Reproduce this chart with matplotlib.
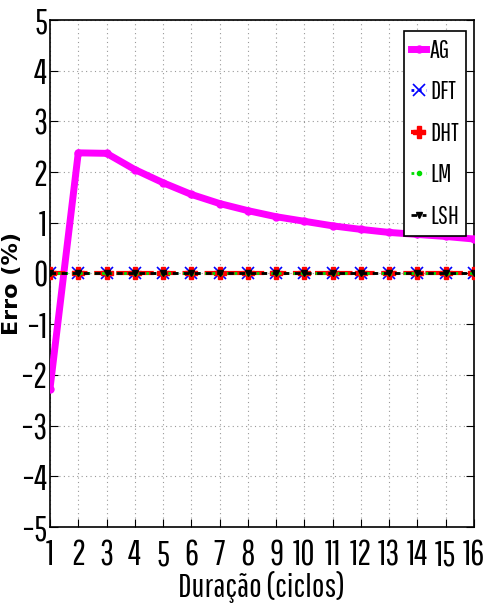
import numpy as np
import matplotlib
matplotlib.use("Agg")
import matplotlib.pyplot as plt

# fonte estreita para os números e rótulos
narrow = ["Pathway Gothic One", "DejaVu Sans"]

# dados
ciclos = np.arange(1, 17)
erro_ag = [-2.27, 2.38, 2.37, 2.05, 1.79, 1.56, 1.38, 1.24, 1.12, 1.03,
           0.94, 0.87, 0.81, 0.77, 0.73, 0.68]
erro_dft = [0.0] * 16
erro_dht = [0.0] * 16
erro_lm = [0.0] * 16
erro_lsh = [0.0] * 16

fig = plt.figure(figsize=(4.83, 6.12), dpi=100)
ax = fig.add_axes([50 / 483, 85 / 612, 424 / 483, 507 / 612])

ax.plot(ciclos, erro_ag, color="magenta", lw=5, marker="o", ms=5, label="AG", zorder=3)
ax.plot(ciclos, erro_dft, color="blue", ls=":", lw=2, marker="x", ms=9, mew=1.2, label="DFT", zorder=4)
ax.plot(ciclos, erro_dht, color="red", ls="--", lw=3, marker="P", ms=8, label="DHT", zorder=5)
ax.plot(ciclos, erro_lm, color="#00dd00", ls=":", lw=2, marker="o", ms=3, label="LM", zorder=6)
ax.plot(ciclos, erro_lsh, color="black", ls=(0, (2, 2)), lw=2, marker="v", ms=4, label="LSH", zorder=7)

ax.set_xlim(1, 16)
ax.set_ylim(-5, 5)
ax.set_xticks(ciclos)
ax.set_yticks(np.arange(-5, 6))
ax.grid(True, color="#999999", ls=(0, (1, 3)), lw=0.8)
ax.tick_params(direction="in", length=6, width=0.8, top=False, right=True)
for lab in ax.get_xticklabels() + ax.get_yticklabels():
    lab.set_fontfamily(narrow)
    lab.set_fontsize(25)
ax.tick_params(axis="x", pad=8)
ax.tick_params(axis="y", pad=2)
for s in ax.spines.values():
    s.set_linewidth(1.2)

ax.set_xlabel("Duração (ciclos)", fontfamily=narrow, fontsize=24, labelpad=0)
ax.set_ylabel("Erro (%)", fontsize=16, fontweight="bold")
ax.yaxis.set_label_coords(-0.066, 0.48)

leg = ax.legend(loc="upper right", bbox_to_anchor=(0.994, 0.988), fancybox=False,
                edgecolor="black", framealpha=1, handlelength=0.6, handletextpad=0.15,
                labelspacing=0.7, borderpad=0.3, borderaxespad=0.2,
                prop={"family": narrow, "size": 18})
leg.get_frame().set_linewidth(1.2)

fig.savefig("out.png", dpi=100)
